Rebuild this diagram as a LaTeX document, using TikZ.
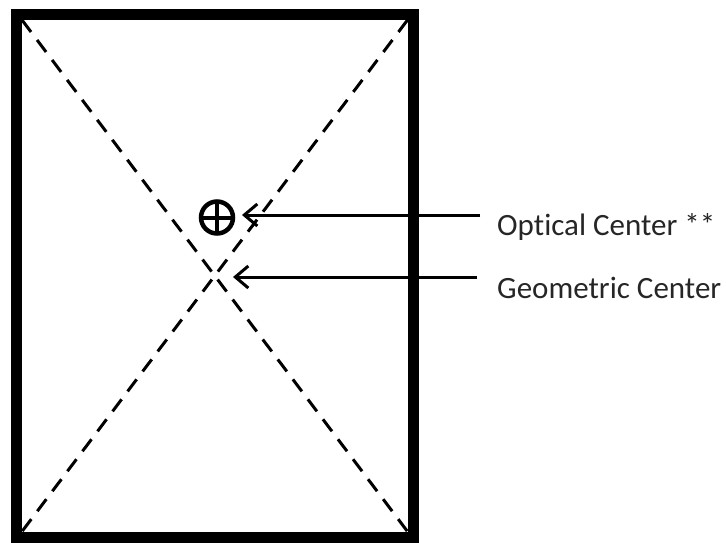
\documentclass[tikz,border=0pt]{standalone}
\usepackage{fontspec}
\setmainfont{Carlito}[Ligatures=NoCommon]
\usetikzlibrary{arrows.meta}
\begin{document}
\begin{tikzpicture}[x=1pt,y=-1pt,
  frame/.style={line width=11pt, line join=miter},
  diag/.style={line width=3pt, dash pattern=on 15pt off 10pt},
  pointer/.style={line width=3pt, -{Straight Barb[length=13pt,width=22pt,line width=3pt]}},
  lbl/.style={anchor=west, inner sep=0pt, font=\fontsize{31}{36}\selectfont, text=black!85}]
\useasboundingbox (0,0) rectangle (726,542);
\draw[frame] (16.5,14.5) rectangle (413,537);
\coordinate (tl) at (22,20);
\coordinate (tr) at (407.5,20);
\coordinate (bl) at (22,531.5);
\coordinate (br) at (407.5,531.5);
\draw[diag] (tl) -- (br);
\draw[diag] (tr) -- (bl);
\coordinate (gc) at (214.7,275.8);
\node[circle, draw, line width=4.5pt, minimum size=32pt, inner sep=0pt,
  path picture={\draw[line width=4pt] (path picture bounding box.north) -- (path picture bounding box.south);
                \draw[line width=4pt] (path picture bounding box.west) -- (path picture bounding box.east);}]
  (oc) at (217,217.5) {};
\node[lbl] (t1) at (497,227) {Optical Center **};
\node[lbl] (t2) at (497,288) {Geometric Center};
\coordinate (s1) at (480,215);
\coordinate (s2) at (477,277);
\draw[pointer] (s1) -- (242,215);
\draw[pointer] (s2) -- (233,277);
\end{tikzpicture}
\end{document}
